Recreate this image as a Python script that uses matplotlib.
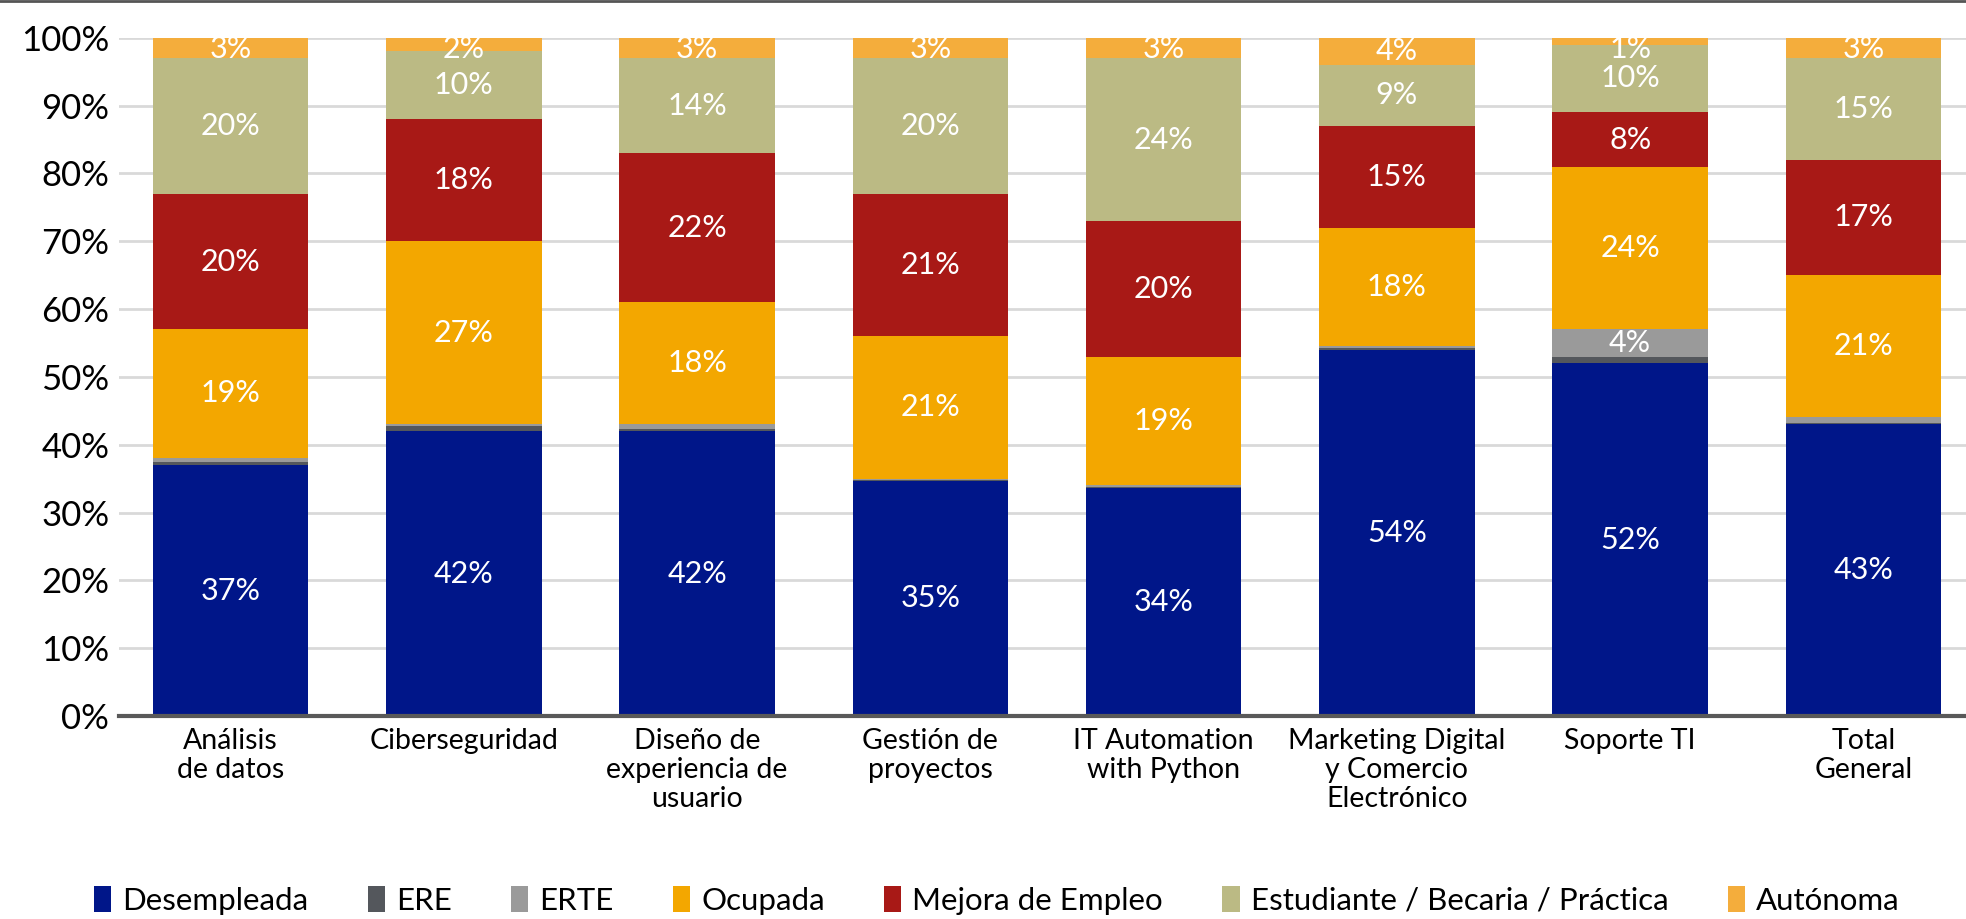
import matplotlib.pyplot as plt
from matplotlib.lines import Line2D
import numpy as np

plt.rcParams['font.family'] = ['Lato', 'DejaVu Sans']

categories = ["Análisis\nde datos", "Ciberseguridad", "Diseño de\nexperiencia de\nusuario",
              "Gestión de\nproyectos", "IT Automation\nwith Python",
              "Marketing Digital\ny Comercio\nElectrónico", "Soporte TI", "Total\nGeneral"]

desempleada = [37.0, 42.0, 42.0, 34.7, 33.6, 54.0, 52.0, 43.0]
ere = [0.5, 0.7, 0.35, 0.1, 0.2, 0.2, 0.9, 0.2]
erte = [0.6, 0.3, 0.65, 0.2, 0.2, 0.3, 4.1, 0.9]
ocupada = [18.9, 27.0, 18.0, 21.0, 19.0, 17.5, 24.0, 20.9]
mejora = [20.0, 18.0, 22.0, 21.0, 20.0, 15.0, 8.0, 17.0]
estudiante = [20.0, 10.0, 14.0, 20.0, 24.0, 9.0, 10.0, 15.0]
autonoma = [3.0, 2.0, 3.0, 3.0, 3.0, 4.0, 1.0, 3.0]

series = [("Desempleada", desempleada, "#001689"),
          ("ERE", ere, "#54575C"),
          ("ERTE", erte, "#9A9A9A"),
          ("Ocupada", ocupada, "#F3A700"),
          ("Mejora de Empleo", mejora, "#A81916"),
          ("Estudiante / Becaria / Práctica", estudiante, "#BBBA84"),
          ("Autónoma", autonoma, "#F4AD3C")]

fig = plt.figure(figsize=(19.66, 9.19), dpi=100)
ax = fig.add_axes([0.0605, 0.2209, 0.9395, 0.738])

x = np.arange(len(categories))
bottom = np.zeros(len(categories))
for name, vals, color in series:
    vals = np.array(vals)
    ax.bar(x, vals, 0.667, bottom=bottom, color=color, label=name, zorder=2)
    for xi, b, v in zip(x, bottom, vals):
        if v >= 0.95:
            # labels are kept inside the plot area, like Excel does
            yc = min(b + v / 2, 98.3)
            ax.text(xi, yc, f"{v:.0f}%", ha='center', va='center',
                    color='white', fontsize=22, zorder=3)
    bottom += vals

ax.set_ylim(0, 100)
ax.set_xlim(-0.479, 7.44)
ax.set_yticks(range(0, 101, 10))
ax.set_yticklabels([f"{v}%" for v in range(0, 101, 10)], fontsize=25)
ax.set_xticks(x)
ax.set_xticklabels(categories, fontsize=20.5, linespacing=1.12)
ax.tick_params(axis='both', length=0)
ax.tick_params(axis='y', pad=7)
ax.tick_params(axis='x', pad=9)
ax.yaxis.grid(True, color='#D9D9D9', linewidth=2, zorder=0)
ax.set_axisbelow(True)
for s in ['top', 'right', 'left']:
    ax.spines[s].set_visible(False)
ax.spines['bottom'].set_color('#595959')
ax.spines['bottom'].set_linewidth(3)
ax.spines['bottom'].set_zorder(4)

fig.legend(loc='center', bbox_to_anchor=(0.507, 0.02), ncol=7, frameon=False,
           fontsize=22.5, handlelength=0.55, handleheight=0.9, handletextpad=0.35,
           columnspacing=1.9)

fig.add_artist(Line2D([0, 1], [0.999, 0.999], color='#555555', linewidth=2,
                      transform=fig.transFigure))

fig.savefig("out.png", dpi=100)
